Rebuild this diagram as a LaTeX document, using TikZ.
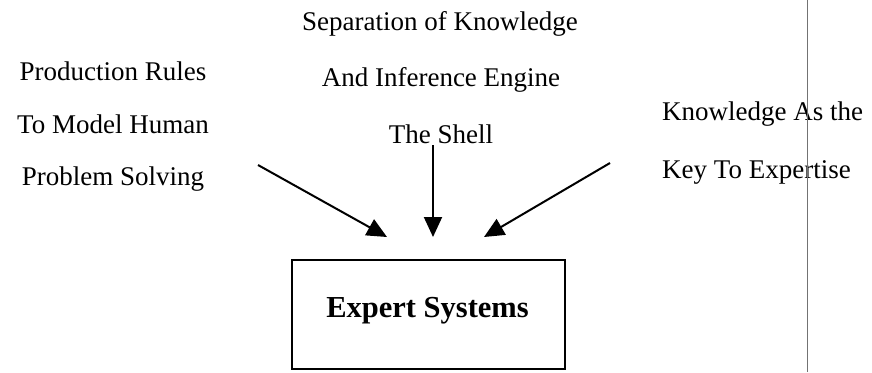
\documentclass[tikz,border=0pt]{standalone}
\usepackage{fontspec}
\setmainfont{Liberation Serif}
\usetikzlibrary{arrows.meta}
\tikzset{
  lbl/.style={anchor=base, inner sep=0pt, font=\fontsize{27}{30}\selectfont},
  lblL/.style={lbl, anchor=base west},
  sysbox/.style={draw, line width=1.8pt, minimum width=273pt, minimum height=109pt, inner sep=0pt},
  feed/.style={line width=2pt, -{Triangle[length=20pt, width=18pt]}},
}
\begin{document}
\begin{tikzpicture}[x=1pt, y=-1pt]
\useasboundingbox (0,0) rectangle (872,372);

% left source
\node[lbl] (p1) at (113,80)  {Production Rules};
\node[lbl] (p2) at (113,133) {To Model Human};
\node[lbl] (p3) at (113,185) {Problem Solving};

% middle source
\node[lbl] (s1) at (440,30)  {Separation of Knowledge};
\node[lbl] (s2) at (441,86)  {And Inference Engine};
\node[lbl] (s3) at (441,143) {The Shell};

% right source
\node[lblL] (k1) at (662,120) {Knowledge As the};
\node[lblL] (k2) at (662,178) {Key To Expertise};

% target
\node[sysbox] (es) at (428.5,314.5) {};
\node[anchor=base, inner sep=0pt, font=\fontsize{30.5}{34}\selectfont\bfseries] (est) at (427.5,317) {Expert Systems};

% arrow ends
\coordinate (aL) at (258,165);
\coordinate (aM) at (433,145);
\coordinate (aR) at (610,163);
\coordinate (tL) at (387,237);
\coordinate (tM) at (433,237);
\coordinate (tR) at (484,237);

\draw[feed] (aL) -- (tL);
\draw[feed] (aM) -- (tM);
\draw[feed] (aR) -- (tR);

% page rule
\coordinate (r0) at (807,0);
\coordinate (r1) at (807,372);
\draw[line width=1pt, black!55] (r0) -- (r1);
\end{tikzpicture}
\end{document}
